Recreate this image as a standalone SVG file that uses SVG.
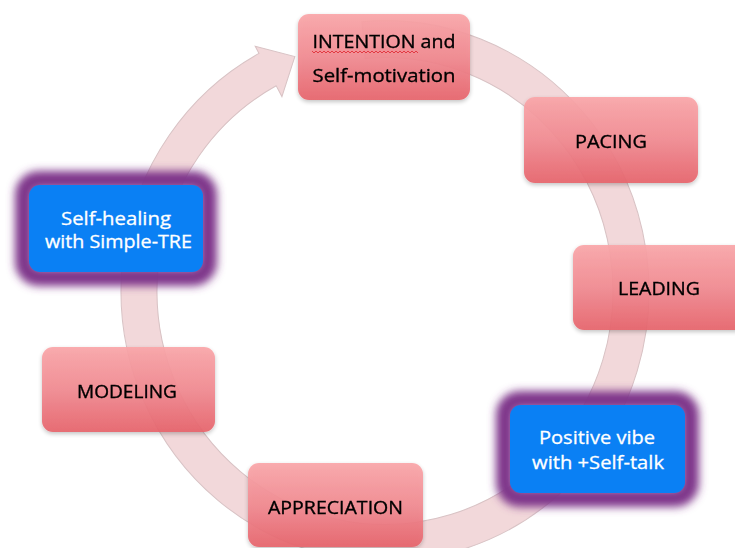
<svg xmlns="http://www.w3.org/2000/svg" width="735" height="548" viewBox="0 0 735 548">
  <defs>
    <linearGradient id="pinkGrad" x1="0" y1="0" x2="0" y2="1">
      <stop offset="0" stop-color="#faa6a9"/>
      <stop offset="0.5" stop-color="#f28a91"/>
      <stop offset="1" stop-color="#e7646c"/>
    </linearGradient>
    <filter id="glow" x="-30%" y="-40%" width="160%" height="180%">
      <feGaussianBlur stdDeviation="4.5"/>
    </filter>
    <filter id="shadow" x="-10%" y="-10%" width="120%" height="130%">
      <feGaussianBlur in="SourceAlpha" stdDeviation="2"/>
      <feOffset dx="0" dy="2" result="b"/>
      <feComponentTransfer><feFuncA type="linear" slope="0.25"/></feComponentTransfer>
      <feMerge><feMergeNode/><feMergeNode in="SourceGraphic"/></feMerge>
    </filter>
    <style>
      .pink { fill: url(#pinkGrad); opacity: 0.92; }
      .blue { fill: #0a80f4; }
      .halo { fill: none; stroke: #7e348a; stroke-width: 18; filter: url(#glow); }
      .lbl { font-family: "Open Sans", "Liberation Sans", sans-serif; font-size: 18.5px; fill: #000; stroke: #000; stroke-width: 0.35; text-anchor: middle; }
      .wlbl { font-family: "Open Sans", "Liberation Sans", sans-serif; font-size: 18.5px; fill: #ffffff; stroke: #ffffff; stroke-width: 0.3; text-anchor: middle; }
    </style>
  </defs>
  <rect width="735" height="548" fill="#ffffff"/>

  <g id="connectors">
    <g transform="translate(385,291) scale(1,1.024)">
      <path d="M -23.01 -263.0 A 264 264 0 1 1 -125.97 -232.01 L -129.79 -239.04 L -90.16 -228.88 L -103.07 -189.83 L -108.79 -200.37 A 228 228 0 1 0 -19.87 -227.13 Z" fill="#f2d8da" stroke="#d8c2c4" stroke-width="1"/>
    </g>
  </g>

  <g id="node-intention" filter="url(#shadow)">
    <rect class="pink" x="298" y="14" width="172" height="86" rx="11"/>
    <text class="lbl" x="384" y="48" textLength="143" lengthAdjust="spacingAndGlyphs">INTENTION and</text>
    <polyline points="312,51 314,53 316,51 318,53 320,51 322,53 324,51 326,53 328,51 330,53 332,51 334,53 336,51 338,53 340,51 342,53 344,51 346,53 348,51 350,53 352,51 354,53 356,51 358,53 360,51 362,53 364,51 366,53 368,51 370,53 372,51 374,53 376,51 378,53 380,51 382,53 384,51 386,53 388,51 390,53 392,51 394,53 396,51 398,53 400,51 402,53 404,51 406,53 408,51 410,53 412,51 414,53 416,51 418,53" fill="none" stroke="#e0303a" stroke-width="0.9"/>
    <text class="lbl" x="384" y="82" textLength="143" lengthAdjust="spacingAndGlyphs">Self-motivation</text>
  </g>

  <g id="node-pacing" filter="url(#shadow)">
    <rect class="pink" x="524" y="97" width="174" height="86" rx="11"/>
    <text class="lbl" x="611" y="148" textLength="72" lengthAdjust="spacingAndGlyphs">PACING</text>
  </g>

  <g id="node-leading" filter="url(#shadow)">
    <rect class="pink" x="573" y="245" width="180" height="85" rx="11"/>
    <text class="lbl" x="659" y="295" textLength="82" lengthAdjust="spacingAndGlyphs">LEADING</text>
  </g>

  <g id="node-positive">
    <rect class="halo" x="505" y="400" width="185" height="98" rx="15"/>
    <rect class="blue" x="510" y="405" width="175" height="88" rx="11"/>
    <text class="wlbl" x="597" y="444" textLength="116" lengthAdjust="spacingAndGlyphs">Positive vibe</text>
    <text class="wlbl" x="598" y="469" textLength="132" lengthAdjust="spacingAndGlyphs">with +Self-talk</text>
  </g>

  <g id="node-appreciation" filter="url(#shadow)">
    <rect class="pink" x="248" y="463" width="175" height="84" rx="11"/>
    <text class="lbl" x="335.5" y="514" textLength="135" lengthAdjust="spacingAndGlyphs">APPRECIATION</text>
  </g>

  <g id="node-modeling" filter="url(#shadow)">
    <rect class="pink" x="42" y="347" width="173" height="85" rx="11"/>
    <text class="lbl" x="127" y="398" textLength="100" lengthAdjust="spacingAndGlyphs">MODELING</text>
  </g>

  <g id="node-selfhealing">
    <rect class="halo" x="24" y="180" width="184" height="97" rx="15"/>
    <rect class="blue" x="29" y="185" width="174" height="87" rx="11"/>
    <text class="wlbl" x="116" y="225" textLength="110" lengthAdjust="spacingAndGlyphs">Self-healing</text>
    <text class="wlbl" x="118.5" y="248" textLength="147" lengthAdjust="spacingAndGlyphs">with Simple-TRE</text>
  </g>
</svg>
